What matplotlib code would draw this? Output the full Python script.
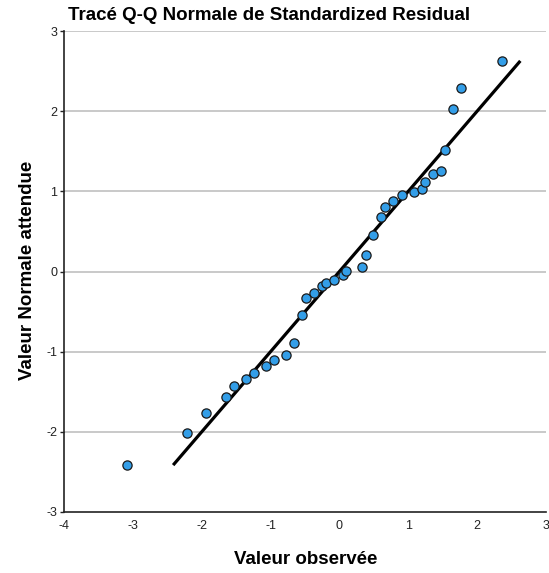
import numpy as np
import matplotlib.pyplot as plt

plt.rcParams['font.family'] = ['Liberation Sans', 'DejaVu Sans']
plt.rcParams['axes.unicode_minus'] = False

# observed standardized residuals and their expected normal values
observed = [-3.08, -2.22, -1.935, -1.645, -1.53, -1.355, -1.234, -1.06, -0.943,
            -0.774, -0.653, -0.547, -0.483, -0.363, -0.257, -0.198, -0.077,
            0.048, 0.10, 0.334, 0.382, 0.493, 0.61, 0.665, 0.784, 0.902,
            1.076, 1.192, 1.248, 1.366, 1.48, 1.538, 1.655, 1.771, 2.356]
expected = [-2.415, -2.02, -1.76, -1.56, -1.43, -1.34, -1.26, -1.185, -1.11,
            -1.047, -0.898, -0.545, -0.333, -0.274, -0.187, -0.145, -0.10,
            -0.046, 0.008, 0.062, 0.212, 0.461, 0.684, 0.805, 0.875, 0.953,
            0.997, 1.03, 1.112, 1.218, 1.25, 1.517, 2.03, 2.29, 2.627]
xticks = [-4, -3, -2, -1, 0, 1, 2, 3]
yticks = [-3, -2, -1, 0, 1, 2, 3]

fig = plt.figure(figsize=(5.49, 5.73), dpi=100)
ax = fig.add_axes([64 / 549, 1 - 512 / 573, 482 / 549, 481 / 573])

for y in yticks[1:]:
    ax.axhline(y, color='#c0c0c0', lw=1.2, zorder=0)

# reference line over the range of expected values
lo, hi = min(expected), max(expected)
ax.plot([lo, hi], [lo, hi], color='black', lw=2.3, zorder=2, solid_capstyle='butt')
ax.scatter(observed, expected, s=44, facecolor='#339ee8', edgecolor='#1a1a1a',
           linewidths=0.9, zorder=3)

ax.set_xlim(-4, 3)
ax.set_ylim(-3, 3)
ax.set_xticks(xticks)
ax.set_yticks(yticks)
ax.tick_params(axis='x', length=0, pad=6, labelsize=9, colors='#222222')
ax.tick_params(axis='y', length=3, width=1, pad=2, labelsize=9, colors='#222222')
for s in ['top', 'right']:
    ax.spines[s].set_visible(False)
for s in ['left', 'bottom']:
    ax.spines[s].set_color('#222222')
    ax.spines[s].set_linewidth(1.2)

fig.text(306 / 549, 1 - 559 / 573, 'Valeur observée', fontsize=13.5,
         fontweight='bold', ha='center', va='center')
fig.text(28 / 549, 1 - 270 / 573, 'Valeur Normale attendue', fontsize=13.5,
         fontweight='bold', ha='center', va='center', rotation=90)
fig.text(68 / 549, 1 - 15 / 573, 'Tracé Q-Q Normale de Standardized Residual',
         fontsize=13.5, fontweight='bold', va='center', ha='left')

fig.savefig('out.png', dpi=100)
